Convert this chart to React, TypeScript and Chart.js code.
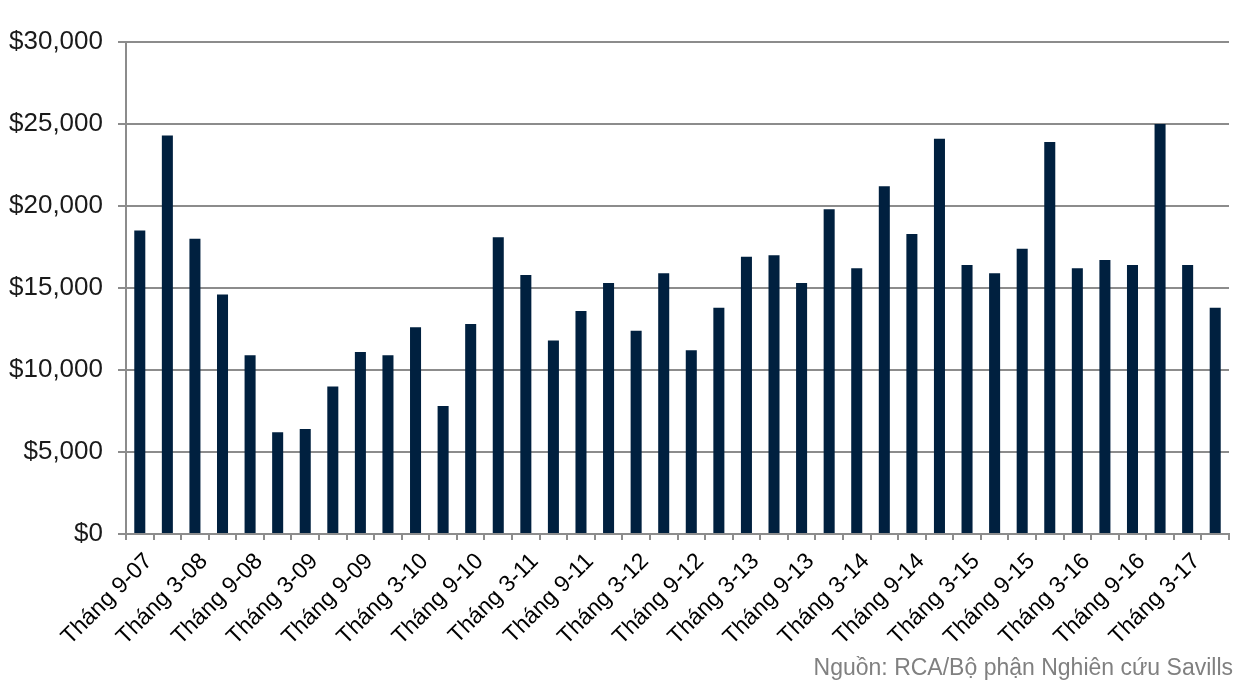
import React, { useEffect, useRef } from "react";
import { Chart, registerables } from "chart.js";

Chart.register(...registerables);

const categories: string[] = [
  "Tháng 9-07", "Tháng 12-07", "Tháng 3-08", "Tháng 6-08", "Tháng 9-08", "Tháng 12-08",
  "Tháng 3-09", "Tháng 6-09", "Tháng 9-09", "Tháng 12-09", "Tháng 3-10", "Tháng 6-10",
  "Tháng 9-10", "Tháng 12-10", "Tháng 3-11", "Tháng 6-11", "Tháng 9-11", "Tháng 12-11",
  "Tháng 3-12", "Tháng 6-12", "Tháng 9-12", "Tháng 12-12", "Tháng 3-13", "Tháng 6-13",
  "Tháng 9-13", "Tháng 12-13", "Tháng 3-14", "Tháng 6-14", "Tháng 9-14", "Tháng 12-14",
  "Tháng 3-15", "Tháng 6-15", "Tháng 9-15", "Tháng 12-15", "Tháng 3-16", "Tháng 6-16",
  "Tháng 9-16", "Tháng 12-16", "Tháng 3-17", "Tháng 6-17",
];

const values: number[] = [
  18500, 24300, 18000, 14600, 10900, 6200, 6400, 9000, 11100, 10900,
  12600, 7800, 12800, 18100, 15800, 11800, 13600, 15300, 12400, 15900,
  11200, 13800, 16900, 17000, 15300, 19800, 16200, 21200, 18300, 24100,
  16400, 15900, 17400, 23900, 16200, 16700, 16400, 25000, 16400, 13800,
];

const yTicks: number[] = [0, 5000, 10000, 15000, 20000, 25000, 30000];

const sourceText = "Nguồn: RCA/Bộ phận Nghiên cứu Savills";

const FONT = "'Liberation Sans', Arial, sans-serif";
const GRID = "#8c8c8c";

const sourcePlugin = {
  id: "sourceText",
  afterDraw(chart: any) {
    const ctx = chart.ctx;
    ctx.save();
    ctx.font = `23px ${FONT}`;
    ctx.fillStyle = "#808080";
    ctx.textAlign = "right";
    ctx.textBaseline = "alphabetic";
    ctx.fillText(sourceText, 1233, 675);
    ctx.restore();
  },
};

export default function App() {
  const ref = useRef<HTMLCanvasElement | null>(null);

  useEffect(() => {
    if (!ref.current) return;
    const chart = new Chart(ref.current, {
      type: "bar",
      data: {
        labels: categories,
        datasets: [
          {
            data: values,
            backgroundColor: "#00203f",
            borderWidth: 0,
            barPercentage: 0.4,
            categoryPercentage: 1.0,
          },
        ],
      },
      plugins: [sourcePlugin],
      options: {
        responsive: false,
        animation: false,
        layout: { padding: { left: 9, right: 12, top: 42, bottom: 54 } },
        plugins: {
          legend: { display: false },
          tooltip: { enabled: false },
          title: { display: false },
        },
        scales: {
          x: {
            afterFit: (axis: any) => {
              axis.height = 109;
              axis.paddingRight = 0;
              axis.paddingLeft = 0;
            },
            grid: {
              display: true,
              drawOnChartArea: false,
              drawTicks: true,
              tickLength: 6,
              offset: true,
              color: GRID,
              lineWidth: 2,
            },
            border: { display: true, color: GRID, width: 2 },
            ticks: {
              autoSkip: false,
              minRotation: 45,
              maxRotation: 45,
              padding: 8,
              labelOffset: 9,
              color: "#000000",
              font: { family: FONT, size: 23 },
              callback: (_v: any, i: number) => (i % 2 === 0 ? categories[i] : ""),
            },
          },
          y: {
            min: 0,
            max: 30000,
            afterFit: (axis: any) => {
              axis.width = 117;
            },
            afterBuildTicks: (axis: any) => {
              axis.ticks = yTicks.map((v) => ({ value: v }));
            },
            grid: {
              color: GRID,
              lineWidth: 2,
              drawTicks: true,
              tickLength: 8,
            },
            border: { display: true, color: GRID, width: 2 },
            ticks: {
              padding: 15,
              color: "#1a1a1a",
              font: { family: FONT, size: 26 },
              callback: (v: any) => "$" + Number(v).toLocaleString("en-US"),
            },
          },
        },
      },
    });
    return () => chart.destroy();
  }, []);

  return (
    <div style={{ position: "fixed", left: 0, top: 0, width: 1241, height: 697, background: "#fff" }}>
      <canvas ref={ref} width={1241} height={697} />
    </div>
  );
}
